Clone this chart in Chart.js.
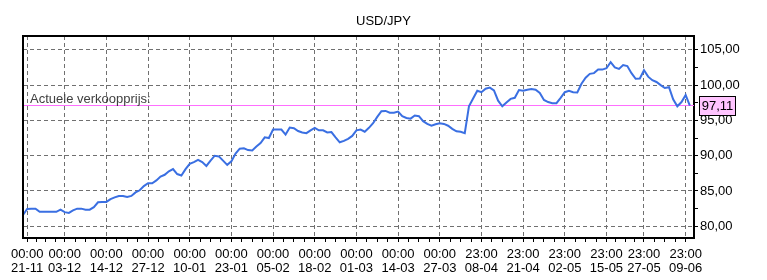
<!DOCTYPE html>
<html><head><meta charset="utf-8">
<script src="https://cdn.jsdelivr.net/npm/chart.js@4.4.0/dist/chart.umd.min.js"></script>
<style>html,body{margin:0;padding:0;background:#fff;}canvas{display:block;}</style>
</head><body>
<canvas id="c" width="767" height="280"></canvas>
<script>
const chartTitle = 'USD/JPY';
const prices = [
81.6,82.45,82.5,82.5,82.05,82.05,82.05,82.05,82.05,82.35,
82.0,81.9,82.25,82.5,82.5,82.35,82.35,82.7,83.4,83.45,
83.45,83.85,84.1,84.3,84.3,84.15,84.3,84.8,85.1,85.7,
86.1,86.1,86.5,87.05,87.3,87.8,88.1,87.4,87.2,88.1,
88.85,89.1,89.4,89.1,88.55,89.3,90.0,89.9,89.3,88.7,
89.2,90.3,91.0,91.05,90.8,90.75,91.3,91.8,92.6,92.5,
93.7,93.7,93.7,93.0,94.0,93.9,93.5,93.3,93.2,93.6,
93.95,93.6,93.6,93.3,93.35,92.6,91.9,92.1,92.4,92.8,
93.6,93.7,93.4,93.95,94.6,95.5,96.3,96.35,96.1,96.1,
96.25,95.6,95.35,95.25,95.7,95.6,94.9,94.5,94.25,94.45,
94.6,94.5,94.25,93.8,93.45,93.4,93.2,97.0,98.1,99.2,
99.0,99.5,99.65,99.25,97.8,97.0,97.55,98.05,98.2,99.3,
99.2,99.35,99.45,99.35,98.9,97.9,97.6,97.45,97.45,98.2,
99.0,99.2,99.0,98.95,100.2,101.05,101.6,101.7,102.2,102.2,
102.4,103.25,102.5,102.3,102.85,102.7,101.7,100.9,100.95,102.1,
101.2,100.7,100.45,100.0,99.6,99.7,98.0,97.0,97.6,98.6,
97.11];
const tickIndex = [1,10,20,30,40,50,60,70,80,90,100,110,120,130,140,149,159];
const tickTime = ['00:00','00:00','00:00','00:00','00:00','00:00','00:00','00:00','00:00','00:00','00:00','23:00','23:00','23:00','23:00','23:00','23:00'];
const tickDate = ['21-11','03-12','14-12','27-12','10-01','23-01','05-02','18-02','01-03','14-03','27-03','08-04','21-04','02-05','15-05','27-05','09-06'];
const yTicks = [80,82.5,85,87.5,90,92.5,95,97.5,100,102.5,105];
const currentPrice = 97.11;
const currentLabel = 'Actuele verkoopprijs:';
const xRange = [0,161];
const yRange = [78.34,106.962];

const FONT = "'Liberation Sans', Arial, sans-serif";
const fmt = v => v.toFixed(2).replace('.', ',');

const overlay = {
  id: 'overlay',
  afterDraw(chart) {
    const {ctx, chartArea: a, scales} = chart;
    const y = scales.y.getPixelForValue(currentPrice);
    ctx.save();
    ctx.strokeStyle = '#000'; ctx.lineWidth = 2;
    ctx.beginPath();
    ctx.moveTo(a.left, a.bottom); ctx.lineTo(a.left, a.top); ctx.lineTo(a.right, a.top);
    ctx.stroke();
    ctx.font = '13px ' + FONT;
    ctx.fillStyle = '#404040';
    ctx.textBaseline = 'bottom'; ctx.textAlign = 'left';
    ctx.fillText(currentLabel, a.left + 7, y);
    const bx = a.right + 5, bw = 36, bh = 19;
    ctx.fillStyle = '#ffc4ff';
    ctx.fillRect(bx, Math.round(y - bh/2) + 0.5, bw, bh);
    ctx.lineWidth = 1; ctx.strokeStyle = '#000';
    ctx.strokeRect(bx + 0.5, Math.round(y - bh/2) + 0.5, bw, bh);
    ctx.fillStyle = '#000'; ctx.textAlign = 'center'; ctx.textBaseline = 'middle';
    ctx.fillText(fmt(currentPrice), bx + bw/2 + 0.5, y + 1);
    ctx.restore();
  }
};

new Chart(document.getElementById('c'), {
  type: 'line',
  data: {
    datasets: [
      {data: prices.map((v,i)=>({x:i,y:v})), borderColor:'#3a6fe2', borderWidth:2, pointRadius:0, tension:0, order:0, yAxisID:'y'},
      {data: [{x:xRange[0],y:currentPrice},{x:xRange[1],y:currentPrice}], borderColor:'#ff6eff', borderWidth:1, pointRadius:0, order:1, yAxisID:'y'}
    ]
  },
  options: {
    responsive:false, animation:false, devicePixelRatio:1,
    layout:{padding:0},
    plugins:{
      legend:{display:false}, tooltip:{enabled:false},
      title:{display:true, text:chartTitle, color:'#000', font:{family:FONT,size:13,weight:'normal',lineHeight:1.2}, padding:{top:14,bottom:6.4}}
    },
    scales:{
      x:{type:'linear', min:xRange[0], max:xRange[1], position:'bottom',
        afterBuildTicks(s){
          const t=[];
          for(let k=0;k<tickIndex.length;k++){
            t.push({value:tickIndex[k]});
            if(k<tickIndex.length-1){const a=tickIndex[k],b=tickIndex[k+1];for(let q=1;q<4;q++)t.push({value:a+(b-a)*q/4});}
          }
          s.ticks=t;
        },
        afterFit(s){s.height=42;},
        ticks:{autoSkip:false,maxRotation:0,minRotation:0,color:'#000',padding:5,font:{family:FONT,size:13,lineHeight:1.12},
          callback(v){const k=tickIndex.indexOf(v);return k>=0?[tickTime[k],tickDate[k]]:'';}},
        grid:{color:c=>(c.tick&&tickIndex.includes(c.tick.value))?'#707070':'rgba(0,0,0,0)',tickColor:'#000',tickLength:4,tickBorderDash:[],lineWidth:1},
        border:{display:true,color:'#000',width:2,dash:[4,3]}
      },
      y:{type:'linear', min:yRange[0], max:yRange[1], position:'right',
        afterBuildTicks(s){s.ticks=yTicks.map(v=>({value:v}));},
        afterFit(s){s.width=73;},
        ticks:{color:'#000',padding:2,font:{family:FONT,size:13},callback(v){return v%5===0?fmt(v):'';}},
        grid:{color:c=>(c.tick&&c.tick.value%5===0)?'#707070':'rgba(0,0,0,0)',tickColor:'#000',tickLength:4,tickBorderDash:[],lineWidth:1},
        border:{display:true,color:'#000',width:2,dash:[4,3]}
      },
      yl:{type:'linear', position:'left', display:true, grid:{display:false}, ticks:{display:false}, border:{display:false},
        afterFit(s){s.width=23;}}
    }
  },
  plugins:[overlay]
});
</script>
</body></html>
